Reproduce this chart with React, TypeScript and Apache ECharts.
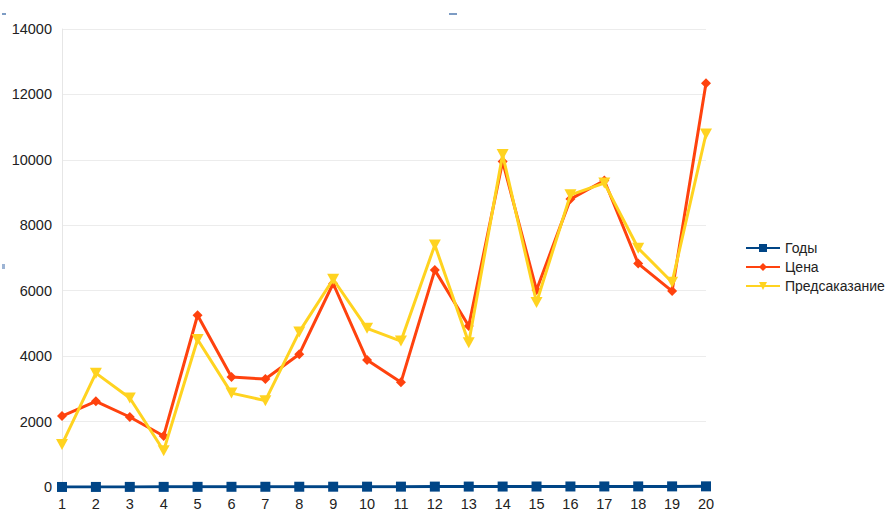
import React, { useEffect, useRef } from "react";
import * as echarts from "echarts";

const categories = ["1", "2", "3", "4", "5", "6", "7", "8", "9", "10", "11", "12", "13", "14", "15", "16", "17", "18", "19", "20"];
const years = [1, 2, 3, 4, 5, 6, 7, 8, 9, 10, 11, 12, 13, 14, 15, 16, 17, 18, 19, 20];
const price = [2170, 2620, 2140, 1560, 5250, 3360, 3300, 4060, 6220, 3880, 3200, 6630, 4920, 9950, 6020, 8800, 9370, 6830, 5990, 12340];
const forecast = [1300, 3480, 2720, 1110, 4510, 2870, 2640, 4740, 6350, 4850, 4460, 7400, 4410, 10160, 5640, 8930, 9290, 7300, 6260, 10790];

const FONT = "'Liberation Sans', Arial, sans-serif";

export default function App() {
  const ref = useRef<HTMLDivElement>(null);

  useEffect(() => {
    if (!ref.current) return;
    const chart = echarts.init(ref.current, undefined, { renderer: "svg" });
    chart.setOption({
      animation: false,
      backgroundColor: "#ffffff",
      textStyle: { fontFamily: FONT },
      grid: { left: 62, right: 185, top: 29, bottom: 20, containLabel: false },
      legend: {
        orient: "vertical",
        left: 745,
        top: 241,
        padding: 0,
        itemWidth: 34,
        itemHeight: 10,
        itemGap: 5,
        textStyle: { fontFamily: FONT, fontSize: 14, color: "#222" },
        data: ["Годы", "Цена", "Предсаказание"],
      },
      xAxis: {
        type: "category",
        data: categories,
        boundaryGap: false,
        axisLine: { show: true, lineStyle: { color: "#d0d0d0" } },
        axisTick: { show: false },
        axisLabel: { fontFamily: FONT, fontSize: 14.5, color: "#222", margin: 9 },
        splitLine: { show: false },
      },
      yAxis: {
        type: "value",
        min: 0,
        max: 14000,
        interval: 2000,
        axisLine: { show: true, lineStyle: { color: "#e6e6e6" } },
        axisTick: { show: false },
        axisLabel: { fontFamily: FONT, fontSize: 14.5, color: "#222", margin: 10, formatter: (v: number) => String(v) },
        splitLine: { lineStyle: { color: "#ececec" } },
      },
      series: [
        {
          name: "Годы",
          type: "line",
          data: years,
          symbol: "rect",
          symbolSize: 10,
          color: "#004586",
          lineStyle: { width: 3, color: "#004586" },
          itemStyle: { color: "#004586" },
          z: 2,
        },
        {
          name: "Цена",
          type: "line",
          data: price,
          symbol: "diamond",
          symbolSize: 10,
          color: "#ff420e",
          lineStyle: { width: 3, color: "#ff420e" },
          itemStyle: { color: "#ff420e" },
          z: 3,
        },
        {
          name: "Предсаказание",
          type: "line",
          data: forecast,
          symbol: "triangle",
          symbolRotate: 180,
          symbolSize: [12, 11],
          color: "#ffd320",
          lineStyle: { width: 3, color: "#ffd320" },
          itemStyle: { color: "#ffd320" },
          z: 4,
        },
      ],
      graphic: [
        { type: "rect", shape: { x: 2, y: 13, width: 4, height: 2 }, style: { fill: "#7d9cc4" } },
        { type: "rect", shape: { x: 449, y: 13, width: 8, height: 2 }, style: { fill: "#7d9cc4" } },
        { type: "rect", shape: { x: 2, y: 264, width: 3, height: 5 }, style: { fill: "#9db4d4" } },
      ],
    });
    return () => chart.dispose();
  }, []);

  return <div ref={ref} style={{ width: 891, height: 511, position: "absolute", left: 0, top: 0 }} />;
}
